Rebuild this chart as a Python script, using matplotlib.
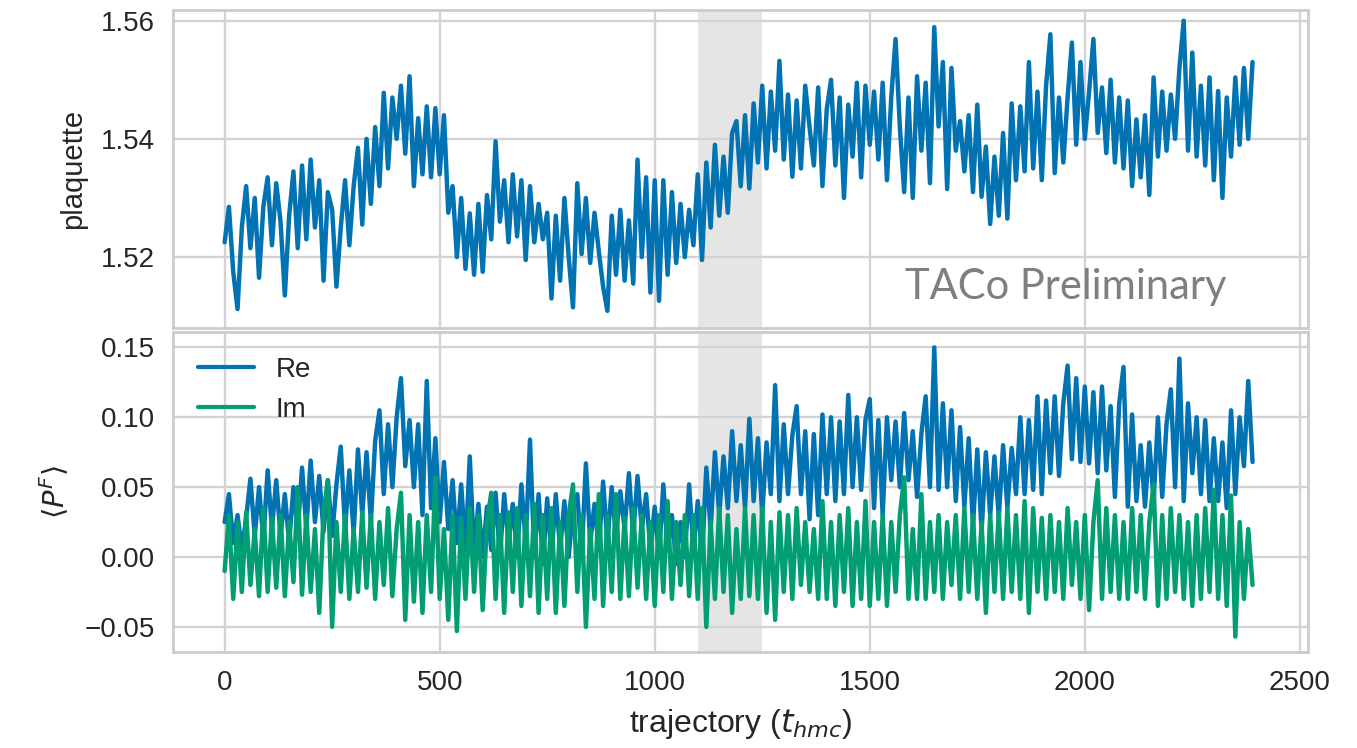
import numpy as np
import matplotlib
matplotlib.use("Agg")
import matplotlib.pyplot as plt
import seaborn as sns

# ---------------- data (step of 10 trajectories) ----------------
plaquette = [
    1.5225, 1.5285, 1.5175, 1.5112, 1.5250, 1.5320, 1.5215, 1.5300, 1.5165, 1.5285,
    1.5335, 1.5220, 1.5325, 1.5260, 1.5135, 1.5270, 1.5345, 1.5215, 1.5355, 1.5230,
    1.5365, 1.5250, 1.5330, 1.5160, 1.5310, 1.5280, 1.5150, 1.5250, 1.5330, 1.5220,
    1.5320, 1.5385, 1.5255, 1.5400, 1.5290, 1.5420, 1.5320, 1.5478, 1.5350, 1.5470,
    1.5400, 1.5490, 1.5375, 1.5506, 1.5320, 1.5435, 1.5340, 1.5455, 1.5335, 1.5452,
    1.5340, 1.5440, 1.5275, 1.5320, 1.5200, 1.5300, 1.5180, 1.5274, 1.5170, 1.5290,
    1.5175, 1.5305, 1.5230, 1.5396, 1.5260, 1.5330, 1.5225, 1.5340, 1.5235, 1.5330,
    1.5195, 1.5320, 1.5225, 1.5290, 1.5230, 1.5275, 1.5130, 1.5270, 1.5160, 1.5300,
    1.5200, 1.5115, 1.5325, 1.5205, 1.5300, 1.5190, 1.5275, 1.5210, 1.5150, 1.5109,
    1.5270, 1.5170, 1.5280, 1.5160, 1.5262, 1.5155, 1.5365, 1.5200, 1.5335, 1.5140,
    1.5330, 1.5126, 1.5330, 1.5170, 1.5310, 1.5190, 1.5290, 1.5200, 1.5280, 1.5220,
    1.5340, 1.5195, 1.5360, 1.5250, 1.5390, 1.5270, 1.5370, 1.5275, 1.5410, 1.5430,
    1.5320, 1.5440, 1.5316, 1.5460, 1.5360, 1.5490, 1.5350, 1.5480, 1.5380, 1.5532,
    1.5365, 1.5475, 1.5336, 1.5465, 1.5350, 1.5490, 1.5420, 1.5355, 1.5487, 1.5320,
    1.5450, 1.5500, 1.5355, 1.5470, 1.5300, 1.5458, 1.5370, 1.5495, 1.5335, 1.5490,
    1.5390, 1.5480, 1.5365, 1.5495, 1.5330, 1.5470, 1.5569, 1.5420, 1.5310, 1.5470,
    1.5300, 1.5506, 1.5380, 1.5495, 1.5325, 1.5589, 1.5421, 1.5530, 1.5315, 1.5520,
    1.5380, 1.5430, 1.5345, 1.5440, 1.5310, 1.5458, 1.5302, 1.5387, 1.5256, 1.5370,
    1.5270, 1.5410, 1.5265, 1.5460, 1.5330, 1.5455, 1.5345, 1.5530, 1.5350, 1.5480,
    1.5330, 1.5490, 1.5577, 1.5342, 1.5470, 1.5360, 1.5470, 1.5563, 1.5390, 1.5530,
    1.5400, 1.5480, 1.5569, 1.5410, 1.5487, 1.5376, 1.5500, 1.5360, 1.5470, 1.5350,
    1.5465, 1.5320, 1.5433, 1.5335, 1.5440, 1.5305, 1.5504, 1.5370, 1.5480, 1.5380,
    1.5475, 1.5400, 1.5520, 1.5600, 1.5380, 1.5546, 1.5370, 1.5490, 1.5355, 1.5504,
    1.5330, 1.5481, 1.5300, 1.5470, 1.5370, 1.5504, 1.5390, 1.5520, 1.5400, 1.5530,
]

polyakov_re = [
    0.025, 0.045, 0.010, 0.030, 0.005, 0.028, 0.056, 0.015, 0.050, 0.012,
    0.062, 0.020, 0.055, 0.015, 0.045, 0.010, 0.050, 0.018, 0.064, 0.020,
    0.069, 0.025, 0.058, 0.018, 0.055, 0.015, 0.052, 0.079, 0.020, 0.062,
    0.017, 0.077, 0.030, 0.075, 0.025, 0.083, 0.105, 0.045, 0.095, 0.050,
    0.100, 0.128, 0.065, 0.098, 0.050, 0.095, 0.030, 0.126, 0.035, 0.085,
    0.025, 0.068, 0.020, 0.055, 0.010, 0.052, 0.005, 0.072, 0.002, 0.038,
    0.000, 0.036, 0.005, 0.046, 0.000, 0.045, 0.010, 0.038, 0.000, 0.052,
    0.010, 0.084, 0.000, 0.045, -0.005, 0.042, 0.000, 0.045, 0.005, 0.040,
    0.000, 0.035, 0.045, 0.000, 0.067, 0.010, 0.038, 0.005, 0.054, 0.010,
    0.050, 0.015, 0.047, 0.020, 0.060, 0.015, 0.058, 0.020, 0.045, 0.005,
    0.036, 0.000, 0.052, 0.005, 0.030, -0.005, 0.025, 0.000, 0.052, 0.005,
    0.040, 0.000, 0.064, 0.020, 0.075, 0.030, 0.072, 0.035, 0.090, 0.040,
    0.080, 0.035, 0.099, 0.040, 0.085, 0.030, 0.082, 0.045, 0.123, 0.040,
    0.095, 0.045, 0.087, 0.108, 0.045, 0.090, 0.027, 0.088, 0.030, 0.102,
    0.045, 0.100, 0.040, 0.097, 0.045, 0.116, 0.050, 0.100, 0.048, 0.098,
    0.113, 0.035, 0.098, 0.030, 0.100, 0.055, 0.097, 0.050, 0.103, 0.055,
    0.090, 0.043, 0.088, 0.115, 0.050, 0.150, 0.048, 0.110, 0.050, 0.105,
    0.040, 0.093, 0.036, 0.085, 0.022, 0.077, 0.018, 0.075, 0.030, 0.072,
    0.028, 0.080, 0.035, 0.078, 0.045, 0.100, 0.045, 0.098, 0.048, 0.115,
    0.045, 0.112, 0.060, 0.115, 0.058, 0.110, 0.137, 0.070, 0.128, 0.068,
    0.122, 0.067, 0.118, 0.060, 0.122, 0.062, 0.108, 0.043, 0.110, 0.136,
    0.036, 0.102, 0.040, 0.080, 0.036, 0.082, 0.040, 0.100, 0.043, 0.095,
    0.120, 0.050, 0.142, 0.040, 0.110, 0.060, 0.100, 0.045, 0.098, 0.040,
    0.085, 0.040, 0.082, 0.035, 0.105, 0.045, 0.100, 0.065, 0.126, 0.068,
]

polyakov_im = [
    -0.010, 0.030, -0.030, 0.025, -0.025, 0.032, -0.020, 0.020, -0.028, 0.035,
    -0.025, 0.028, -0.022, 0.030, -0.028, 0.025, -0.018, 0.050, -0.027, 0.030,
    -0.025, 0.020, -0.040, 0.032, 0.055, -0.050, 0.025, -0.025, 0.030, -0.030,
    0.020, -0.025, 0.032, -0.022, 0.030, -0.030, 0.025, -0.020, 0.035, -0.028,
    0.020, 0.046, -0.045, 0.030, -0.032, 0.025, -0.040, 0.030, -0.025, 0.057,
    -0.030, 0.020, -0.045, 0.030, -0.053, 0.028, -0.030, 0.035, -0.025, 0.030,
    -0.038, 0.025, 0.046, -0.030, 0.030, -0.040, 0.032, -0.025, 0.035, -0.035,
    0.030, -0.028, 0.038, -0.040, 0.030, -0.030, 0.035, -0.040, 0.025, -0.035,
    0.030, 0.052, -0.025, 0.030, -0.050, 0.020, -0.030, 0.045, -0.035, 0.030,
    -0.025, 0.045, -0.030, 0.028, -0.028, 0.035, -0.022, 0.030, -0.030, 0.025,
    -0.035, 0.030, -0.025, 0.040, -0.030, 0.025, -0.020, 0.030, -0.028, 0.030,
    -0.030, 0.035, -0.050, 0.025, -0.030, 0.035, -0.025, 0.030, -0.040, 0.020,
    -0.030, 0.035, -0.028, 0.030, -0.030, 0.035, -0.040, 0.025, -0.045, 0.032,
    -0.025, 0.030, -0.030, 0.035, -0.020, 0.025, -0.025, 0.020, -0.030, 0.040,
    -0.030, 0.025, -0.035, 0.030, -0.025, 0.035, -0.035, 0.025, -0.030, 0.040,
    -0.035, 0.025, -0.030, 0.030, -0.035, 0.025, -0.025, 0.030, 0.057, -0.030,
    0.020, -0.030, 0.045, -0.030, 0.025, -0.025, 0.030, -0.030, 0.025, -0.020,
    0.030, -0.030, 0.035, -0.025, 0.030, -0.030, 0.025, -0.040, 0.030, -0.025,
    0.032, -0.030, 0.035, -0.025, 0.030, -0.030, 0.040, -0.040, 0.035, -0.025,
    0.028, -0.030, 0.030, -0.025, 0.025, -0.030, 0.035, -0.020, 0.025, -0.030,
    0.030, -0.038, 0.025, 0.055, -0.030, 0.035, -0.025, 0.030, -0.030, 0.025,
    -0.030, 0.035, -0.025, 0.030, -0.030, 0.025, 0.052, -0.035, 0.030, -0.030,
    0.035, -0.025, 0.030, -0.030, 0.025, -0.035, 0.030, -0.030, 0.035, -0.025,
    0.048, -0.030, 0.030, -0.035, 0.044, -0.057, 0.025, -0.030, 0.020, -0.020,
]

traj_step = 10
thermalization_window = (1100, 1250)
x_ticks = [0, 500, 1000, 1500, 2000, 2500]
plaq_ticks = [1.52, 1.54, 1.56]
pf_ticks = [-0.05, 0.00, 0.05, 0.10, 0.15]

# ---------------- style ----------------
sns.set_theme(style="whitegrid", context="talk", palette="colorblind")
plt.rcParams["font.family"] = ["Liberation Sans", "DejaVu Sans"]
plt.rcParams["axes.edgecolor"] = "#cccccc"
plt.rcParams["axes.linewidth"] = 2.0
plt.rcParams["grid.color"] = "#d3d3d3"
plt.rcParams["grid.linewidth"] = 1.7

BLUE = "#0173b2"
GREEN = "#029e73"

fig = plt.figure(figsize=(13.57, 7.48), dpi=100)
ax1 = fig.add_axes([0.1275, 0.5615, 0.8364, 0.4251])
ax2 = fig.add_axes([0.1275, 0.1283, 0.8364, 0.4278], sharex=ax1)

t1 = np.arange(len(plaquette)) * traj_step
t2 = np.arange(len(polyakov_re)) * traj_step
t3 = np.arange(len(polyakov_im)) * traj_step

for ax in (ax1, ax2):
    ax.axvspan(*thermalization_window, color="#e5e5e5", lw=0, zorder=0.5)

ax1.plot(t1, plaquette, color=BLUE, lw=3.2)
ax2.plot(t2, polyakov_re, color=BLUE, lw=3.2, label="Re")
ax2.plot(t3, polyakov_im, color=GREEN, lw=3.2, label="Im")

ax1.set_xlim(-120, 2519)
ax1.set_ylim(1.5080, 1.5618)
ax2.set_ylim(-0.068, 0.161)
ax1.set_yticks(plaq_ticks)
ax1.set_yticklabels([f"{v:.2f}" for v in plaq_ticks])
ax2.set_yticks(pf_ticks)
ax2.set_yticklabels([f"{v:.2f}".replace("-", "\u2212") for v in pf_ticks])
ax2.set_xticks(x_ticks)
ax1.tick_params(axis="x", labelbottom=False)

for ax in (ax1, ax2):
    ax.tick_params(labelsize=20, pad=4)
    ax.set_axisbelow(True)

ax1.set_ylabel("plaquette", fontsize=21, labelpad=10)
ax2.set_ylabel(r"$\langle P^F \rangle$", fontsize=21, labelpad=10)
ax2.set_xlabel(r"trajectory ($t_{hmc}$)", fontsize=23, labelpad=8)

leg = ax2.legend(loc="upper left", frameon=False, fontsize=20, handlelength=2.0,
                 borderaxespad=0.5, labelspacing=0.5, handletextpad=0.8)
for line in leg.get_lines():
    line.set_linewidth(3.0)

fig.text(0.667, 0.600, "TACo Preliminary", fontsize=30, color="#7f7f7f",
         family=["Lato", "DejaVu Sans"], ha="left", va="baseline")

fig.savefig("out.png", dpi=100)
